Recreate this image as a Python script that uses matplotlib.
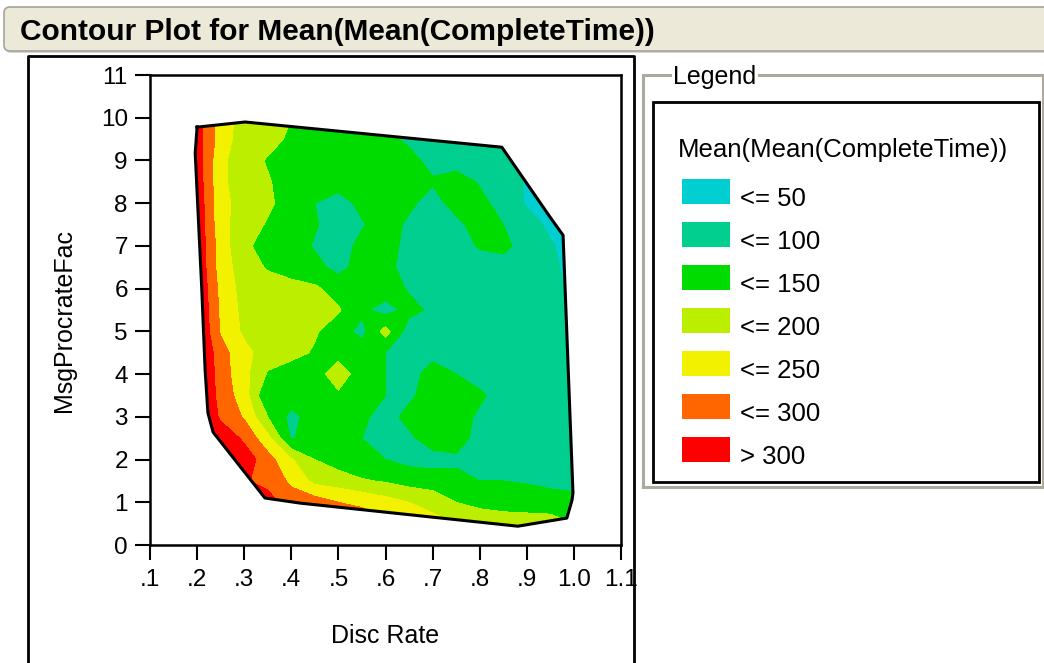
import numpy as np
import matplotlib
matplotlib.use('Agg')
import matplotlib.pyplot as plt
from matplotlib.patches import Rectangle, FancyBboxPatch, Polygon

plt.rcParams['font.family'] = ['Liberation Sans', 'DejaVu Sans']

# ---------------- data ----------------
disc_rate = [0.15, 0.20, 0.25, 0.30, 0.35, 0.40, 0.45, 0.50, 0.55, 0.60,
             0.65, 0.70, 0.75, 0.80, 0.85, 0.90, 0.95, 1.00, 1.05]
msg_procrate_fac = [0.0, 0.5, 1.0, 1.5, 2.0, 2.5, 3.0, 3.5, 4.0, 4.5, 5.0,
                    5.5, 6.0, 6.5, 7.0, 7.5, 8.0, 8.5, 9.0, 9.5, 10.0]

# Mean(Mean(CompleteTime)) at each (MsgProcrateFac row, Disc Rate column)
complete_time = [
    [460, 460, 450, 420, 380, 340, 320, 310, 295, 275, 255, 235, 215, 200, 190, 185, 180, 160, 150],
    [460, 450, 440, 400, 350, 320, 310, 300, 280, 260, 240, 220, 200, 185, 175, 170, 170, 150, 140],
    [460, 440, 410, 360, 320, 275, 275, 250, 240, 220, 200, 180, 150, 135, 130, 130, 125, 110, 110],
    [450, 430, 400, 305, 285, 240, 185, 175, 155, 145, 130, 125, 115, 100, 100, 95, 85, 90, 90],
    [460, 420, 380, 330, 270, 205, 150, 125, 110, 100, 85, 80, 90, 80, 75, 75, 75, 75, 75],
    [460, 400, 340, 290, 215, 95, 125, 125, 100, 75, 90, 125, 125, 80, 75, 75, 75, 75, 75],
    [450, 380, 290, 245, 150, 85, 125, 125, 110, 80, 115, 130, 125, 90, 75, 75, 75, 75, 75],
    [450, 370, 280, 225, 100, 125, 125, 140, 125, 100, 90, 125, 125, 110, 75, 75, 75, 75, 75],
    [450, 370, 275, 215, 145, 125, 125, 180, 120, 100, 80, 120, 100, 75, 75, 75, 75, 75, 75],
    [450, 365, 270, 215, 175, 165, 145, 130, 125, 100, 75, 85, 80, 75, 75, 75, 75, 75, 75],
    [440, 360, 245, 190, 175, 175, 155, 125, 85, 170, 75, 75, 75, 75, 75, 75, 75, 75, 75],
    [440, 355, 240, 185, 175, 175, 170, 155, 110, 80, 115, 90, 75, 75, 75, 75, 75, 60, 60],
    [430, 350, 235, 180, 175, 170, 158, 130, 125, 125, 95, 75, 75, 75, 75, 75, 70, 35, 35],
    [430, 345, 225, 175, 145, 125, 115, 85, 120, 115, 80, 75, 75, 75, 75, 75, 60, 35, 35],
    [420, 340, 225, 160, 130, 125, 95, 75, 115, 120, 85, 75, 75, 105, 115, 75, 55, 30, 30],
    [420, 340, 215, 175, 145, 125, 105, 75, 95, 125, 90, 75, 85, 125, 100, 70, 40, 30, 30],
    [420, 335, 215, 180, 160, 125, 100, 75, 115, 125, 110, 80, 120, 115, 80, 45, 30, 30, 30],
    [420, 330, 210, 175, 155, 125, 125, 125, 125, 125, 110, 105, 125, 95, 75, 45, 30, 30, 30],
    [420, 330, 210, 175, 145, 125, 125, 125, 125, 125, 115, 85, 75, 75, 70, 35, 30, 30, 30],
    [420, 325, 225, 175, 170, 140, 125, 125, 125, 115, 90, 75, 75, 75, 60, 35, 35, 35, 35],
    [420, 325, 225, 180, 175, 150, 130, 125, 125, 125, 110, 90, 80, 75, 60, 35, 35, 35, 35],
]

# convex hull of the observed design points
hull_disc_rate = [0.200, 0.196, 0.210, 0.217, 0.223, 0.234, 0.344, 0.419,
                  0.881, 0.985, 0.996, 0.998, 0.977, 0.949, 0.847, 0.302]
hull_msg_procrate = [9.78, 9.17, 5.97, 4.10, 3.09, 2.64, 1.10, 0.98,
                     0.44, 0.63, 1.05, 1.22, 7.25, 7.68, 9.31, 9.90]

levels = [0, 50, 100, 150, 200, 250, 300, 500]
legend_labels = ['<= 50', '<= 100', '<= 150', '<= 200', '<= 250', '<= 300', '> 300']
band_colors = ['#00CED1', '#00CF8F', '#00DC00', '#BCEE00', '#F2F200', '#FF6600', '#FF0000']

x_ticks = [0.1, 0.2, 0.3, 0.4, 0.5, 0.6, 0.7, 0.8, 0.9, 1.0, 1.1]
x_tick_labels = ['.1', '.2', '.3', '.4', '.5', '.6', '.7', '.8', '.9', '1.0', '1.1']
y_ticks = [0, 1, 2, 3, 4, 5, 6, 7, 8, 9, 10, 11]
y_tick_labels = ['0', '1', '2', '3', '4', '5', '6', '7', '8', '9', '10', '11']

title = 'Contour Plot for Mean(Mean(CompleteTime))'
legend_title = 'Mean(Mean(CompleteTime))'

# ---------------- figure ----------------
W, H = 1044, 663
fig = plt.figure(figsize=(W / 100, H / 100), dpi=100)
fig.patch.set_facecolor('white')

bg = fig.add_axes([0, 0, 1, 1], zorder=0)
bg.set_xlim(0, W)
bg.set_ylim(H, 0)
bg.axis('off')

# title bar
bg.add_patch(FancyBboxPatch((5, 9), 1070, 44, boxstyle='round,pad=0,rounding_size=6',
                            fc='#D8D7CE', ec='none'))
bg.add_patch(FancyBboxPatch((4, 7), 1070, 44, boxstyle='round,pad=0,rounding_size=6',
                            fc='#ECE9D8', ec='#A5A49A', lw=1.2))
bg.text(20, 40, title, fontsize=21.5, fontweight='bold', ha='left', va='baseline')

# main plot axes
ax = fig.add_axes([150 / W, (H - 545) / H, 471 / W, 470 / H], zorder=1)
cs = ax.contourf(disc_rate, msg_procrate_fac, np.array(complete_time),
                 levels=levels, colors=band_colors)
hull_poly = Polygon(np.column_stack([hull_disc_rate, hull_msg_procrate]), closed=True,
                    transform=ax.transData, fill=False)
cs.set_clip_path(hull_poly)
ax.plot(hull_disc_rate + hull_disc_rate[:1], hull_msg_procrate + hull_msg_procrate[:1],
        color='black', lw=2.2, solid_joinstyle='round')

ax.set_xlim(0.1, 1.1)
ax.set_ylim(0, 11)
ax.set_xticks(x_ticks, x_tick_labels)
ax.set_yticks(y_ticks, y_tick_labels)
ax.tick_params(axis='both', direction='out', length=11, width=1.5, labelsize=17.5,
               color='black', labelcolor='black')
ax.tick_params(axis='x', pad=6)
ax.tick_params(axis='y', pad=5)
for s in ax.spines.values():
    s.set_linewidth(1.8)
ax.set_xlabel('Disc Rate', fontsize=18)
ax.xaxis.set_label_coords(0.499, -0.168)
ax.set_ylabel('MsgProcrateFac', fontsize=18)
ax.yaxis.set_label_coords(-0.157, 0.477)

# overlay: frame and legend
top = fig.add_axes([0, 0, 1, 1], zorder=5)
top.set_xlim(0, W)
top.set_ylim(H, 0)
top.axis('off')
top.patch.set_alpha(0)

top.plot([28, 28, 634, 634], [680, 56, 56, 680], color='black', lw=2, clip_on=False)

top.add_patch(Rectangle((643, 75), 400, 412, fill=False, ec='#ACAA9C', lw=2.2))
top.text(673, 84, 'Legend', fontsize=18, ha='left', va='baseline',
         bbox=dict(fc='white', ec='none', pad=1))
top.add_patch(Rectangle((653, 102), 386, 380, fill=False, ec='black', lw=2))
top.text(678, 157, legend_title, fontsize=18.5, ha='left', va='baseline')

for i, (lab, col) in enumerate(zip(legend_labels, band_colors)):
    y0 = 179 + i * 43
    top.add_patch(Rectangle((682, y0), 48, 25, fc=col, ec='none'))
    top.text(740, y0 + 27, lab, fontsize=18.5, ha='left', va='baseline')

fig.savefig('out.png', dpi=100)
